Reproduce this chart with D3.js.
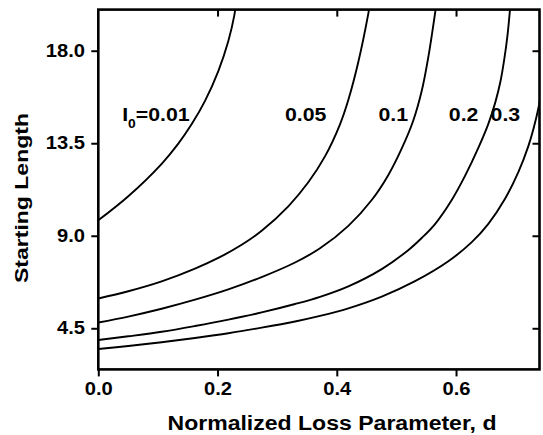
<!DOCTYPE html>
<html>
<head>
  <meta charset="UTF-8" />
  <title>Starting Length vs Normalized Loss Parameter</title>
  <style>
    body { margin: 0; background: #fff; }
    svg text { font-family: "Liberation Sans", Arial, sans-serif; font-weight: bold; fill: #000; }
  </style>
</head>
<body>
  <div id="chart"></div>
  <script src="https://d3js.org/d3.v7.min.js"></script>
  <script>
    // valeurs (d, longueur de départ) pour chaque I0
    const seriesNames = ["0.01", "0.05", "0.1", "0.2", "0.3"];

    const d_001 = [0, 0.0503, 0.1063, 0.1342, 0.1567, 0.179, 0.2013, 0.2181, 0.2282, 0.2295];
    const len_001 = [9.75, 10.92, 12.5, 13.48, 14.43, 15.56, 17.01, 18.47, 19.73, 20.0];

    const d_005 = [0, 0.0503, 0.1063, 0.1622, 0.2012, 0.2405, 0.274, 0.3187, 0.3522, 0.3802, 0.4054, 0.4193, 0.4361, 0.4528, 0.454];
    const len_005 = [5.95, 6.3, 6.78, 7.4, 7.92, 8.56, 9.24, 10.43, 11.6, 12.86, 14.42, 15.6, 17.45, 19.79, 20.0];

    const d_01 = [0, 0.0503, 0.1063, 0.1622, 0.2181, 0.274, 0.33, 0.3719, 0.4194, 0.4586, 0.4865, 0.509, 0.5279, 0.5425, 0.5535, 0.5656];
    const len_01 = [4.78, 5.07, 5.45, 5.89, 6.39, 6.99, 7.7, 8.39, 9.48, 10.74, 11.96, 13.25, 14.57, 16.05, 17.69, 19.98];

    const d_02 = [0, 0.0503, 0.1063, 0.1622, 0.2181, 0.274, 0.33, 0.3719, 0.4194, 0.4754, 0.5203, 0.5424, 0.5648, 0.5928, 0.6151, 0.6374, 0.6542, 0.666, 0.6745, 0.681, 0.6865, 0.6905];
    const len_02 = [3.93, 4.11, 4.33, 4.61, 4.92, 5.27, 5.68, 6.03, 6.54, 7.38, 8.31, 8.89, 9.57, 10.74, 11.91, 13.27, 14.44, 15.5, 16.5, 17.6, 18.8, 20.0];

    const d_03 = [0, 0.0503, 0.1063, 0.1622, 0.2181, 0.274, 0.33, 0.3719, 0.4194, 0.4754, 0.5312, 0.5871, 0.6264, 0.6542, 0.6822, 0.7045, 0.7213, 0.7297, 0.7392, 0.7434];
    const len_03 = [3.49, 3.64, 3.82, 4.03, 4.26, 4.53, 4.83, 5.1, 5.47, 6.04, 6.79, 7.76, 8.69, 9.58, 10.8, 12.09, 13.36, 14.18, 15.35, 16.09];

    const xTicks = [0, 0.2, 0.4, 0.6];
    const yTicks = [4.5, 9.0, 13.5, 18.0];

    // position des étiquettes de courbe (en coordonnées des données)
    const labelD = [0.04, 0.313, 0.47, 0.588, 0.658];
    const labelLen = [14.6, 14.6, 14.6, 14.6, 14.6];

    const series = [
      [d_001, len_001], [d_005, len_005], [d_01, len_01], [d_02, len_02], [d_03, len_03]
    ].map(([ds, ls], i) => ({
      name: seriesNames[i],
      values: ds.map((d, j) => ({ d, len: ls[j] }))
    }));

    const W = 543, H = 435;
    const margin = { top: 9.6, right: 3.5, bottom: 65.6, left: 98.3 };
    const width = W - margin.left - margin.right,
      height = H - margin.top - margin.bottom;

    // le texte de l'original est un peu étiré en largeur
    function stretch(sel, k) {
      sel.each(function () {
        const len = this.getComputedTextLength();
        d3.select(this).attr("textLength", len * k).attr("lengthAdjust", "spacingAndGlyphs");
      });
    }

    const svg = d3.select("#chart").append("svg")
      .attr("width", W)
      .attr("height", H);

    const x = d3.scaleLinear().domain([0, 0.74]).range([0, width]);
    const y = d3.scaleLinear().domain([2.5, 20]).range([height, 0]);

    const g = svg.append("g")
      .attr("transform", `translate(${margin.left},${margin.top})`);

    g.append("clipPath").attr("id", "clip")
      .append("rect").attr("width", width).attr("height", height);

    const line = d3.line()
      .x(d => x(d.d))
      .y(d => y(d.len))
      .curve(d3.curveCatmullRom.alpha(0.5));

    g.append("g").attr("clip-path", "url(#clip)")
      .selectAll("path")
      .data(series)
      .enter()
      .append("path")
      .attr("fill", "none")
      .attr("stroke", "#000")
      .attr("stroke-width", 1.9)
      .attr("d", d => line(d.values));

    // axes
    const fmt = d3.format(".1f");

    const axBottom = g.append("g")
      .attr("transform", `translate(0,${height})`)
      .call(d3.axisBottom(x).tickValues(xTicks).tickFormat(fmt).tickSize(7).tickPadding(6.2));

    const axLeft = g.append("g")
      .call(d3.axisLeft(y).tickValues(yTicks).tickFormat(fmt).tickSize(7).tickPadding(6.3));

    const axTop = g.append("g")
      .call(d3.axisBottom(x).tickValues(xTicks.slice(1)).tickFormat("").tickSize(7));

    const axRight = g.append("g")
      .attr("transform", `translate(${width},0)`)
      .call(d3.axisRight(y).tickValues(yTicks).tickFormat("").tickSize(-7));

    [axBottom, axLeft, axTop, axRight].forEach(a => {
      a.select(".domain").remove();
      a.selectAll(".tick line").attr("stroke", "#000").attr("stroke-width", 2);
      a.selectAll("text").attr("font-size", 17.5).attr("font-family", null);
    });
    stretch(axBottom.selectAll("text"), 1.15);
    stretch(axLeft.selectAll("text"), 1.15);

    g.append("rect")
      .attr("width", width)
      .attr("height", height)
      .attr("fill", "none")
      .attr("stroke", "#000")
      .attr("stroke-width", 2.6);

    // étiquettes des courbes
    series.forEach((s, i) => {
      const t = g.append("text")
        .attr("x", x(labelD[i]))
        .attr("y", y(labelLen[i]))
        .attr("font-size", 18.5);
      if (i === 0) {
        t.append("tspan").text("I");
        t.append("tspan").attr("font-size", 12).attr("dy", 7).text("0");
        t.append("tspan").attr("dy", -7).text("=" + s.name);
      } else {
        t.text(s.name);
      }
      stretch(t, 1.15);
    });

    // titres des axes
    svg.append("text")
      .attr("x", 332)
      .attr("y", 430)
      .attr("text-anchor", "middle")
      .attr("font-size", 19.5)
      .attr("textLength", 329)
      .attr("lengthAdjust", "spacingAndGlyphs")
      .text("Normalized Loss Parameter, d");

    svg.append("text")
      .attr("transform", "translate(27.5,198) rotate(-90)")
      .attr("text-anchor", "middle")
      .attr("font-size", 19)
      .attr("textLength", 170)
      .attr("lengthAdjust", "spacingAndGlyphs")
      .text("Starting Length");
  </script>
</body>
</html>
